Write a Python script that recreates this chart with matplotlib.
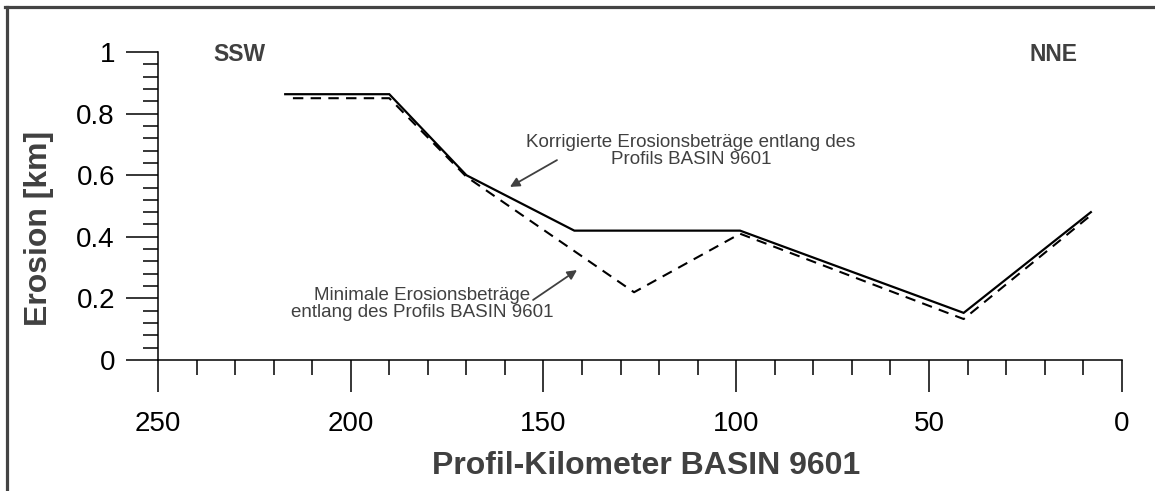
import matplotlib
matplotlib.use("Agg")
import matplotlib.pyplot as plt
from matplotlib.lines import Line2D
from matplotlib.ticker import MultipleLocator

plt.rcParams['font.family'] = ['Liberation Sans', 'DejaVu Sans']

# Data (profile km, erosion km)
km_korr = [217, 190, 170, 142, 99, 41, 8]
ero_korr = [0.863, 0.863, 0.60, 0.42, 0.42, 0.153, 0.48]
km_min = [215, 190, 170, 126.5, 99, 41, 8]
ero_min = [0.85, 0.85, 0.595, 0.22, 0.41, 0.133, 0.47]

xticks = [250, 200, 150, 100, 50, 0]
xticklabels = ['250', '200', '150', '100', '50', '0']
yticks = [0, 0.2, 0.4, 0.6, 0.8, 1.0]
yticklabels = ['0', '0.2', '0.4', '0.6', '0.8', '1']

label_korr = 'Korrigierte Erosionsbeträge entlang des\nProfils BASIN 9601'
label_min = 'Minimale Erosionsbeträge\nentlang des Profils BASIN 9601'

GRAY = '#404040'

fig = plt.figure(figsize=(11.55, 4.91), dpi=100)
ax = fig.add_axes([158/1155, 131/491, 963.7/1155, 308/491])

ax.plot(km_korr, ero_korr, color='black', lw=1.6, solid_joinstyle='miter')
ax.plot(km_min, ero_min, color='black', lw=1.5, linestyle=(0, (5, 3.5)))

ax.set_xlim(250, 0)
ax.set_ylim(0, 1)
for s in ['top', 'right']:
    ax.spines[s].set_visible(False)
for s in ['left', 'bottom']:
    ax.spines[s].set_linewidth(1.1)

ax.set_xticks(xticks)
ax.set_xticklabels(xticklabels)
ax.set_yticks(yticks)
ax.set_yticklabels(yticklabels)
ax.xaxis.set_minor_locator(MultipleLocator(10))
ax.yaxis.set_minor_locator(MultipleLocator(0.04))
ax.tick_params(axis='both', which='major', direction='out', length=23, width=1.1,
               labelsize=20, colors='black')
ax.tick_params(axis='both', which='minor', direction='out', length=11, width=1.1)
ax.tick_params(axis='y', which='major', pad=8)
ax.tick_params(axis='x', which='major', pad=14)

ax.set_xlabel('Profil-Kilometer BASIN 9601', fontsize=23, fontweight='bold', color=GRAY)
ax.xaxis.label.set_va('center')
ax.xaxis.set_label_coords(0.507, -0.344)
ax.set_ylabel('Erosion [km]', fontsize=23, fontweight='bold', color=GRAY)
ax.yaxis.label.set_va('center')
ax.yaxis.set_label_coords(-0.1235, 0.4286)

ax.text(239/1155*0+ (250 - (239-158)/3.855), (360-54.5)/308, 'SSW', fontsize=16.5,
        fontweight='bold', color=GRAY, ha='center', va='center')
ax.text(250 - (1054-158)/3.855, (360-54.5)/308, 'NNE', fontsize=16.5,
        fontweight='bold', color=GRAY, ha='center', va='center')

ax.text(111.7, 0.679, label_korr, fontsize=13.5, color=GRAY, ha='center', va='center',
        multialignment='center', linespacing=1.0)
ax.annotate('', xy=(158.7, 0.562), xytext=(146.5, 0.649),
            arrowprops=dict(arrowstyle='-|>', color=GRAY, lw=1.3, mutation_scale=14,
                            shrinkA=0, shrinkB=0))
ax.text(181.5, 0.183, label_min, fontsize=13.5, color=GRAY, ha='center', va='center',
        multialignment='center', linespacing=1.0)
ax.annotate('', xy=(141.3, 0.292), xytext=(152.7, 0.195),
            arrowprops=dict(arrowstyle='-|>', color=GRAY, lw=1.3, mutation_scale=14,
                            shrinkA=0, shrinkB=0))

# Figure frame (left and top)
fig.add_artist(Line2D([6.5/1155, 6.5/1155], [0, 1 - 6.5/491], transform=fig.transFigure,
                      color='#444444', lw=2.3))
fig.add_artist(Line2D([5/1155, 1], [1 - 6.5/491, 1 - 6.5/491], transform=fig.transFigure,
                      color='#444444', lw=2.3))

fig.savefig('out.png', dpi=100)
